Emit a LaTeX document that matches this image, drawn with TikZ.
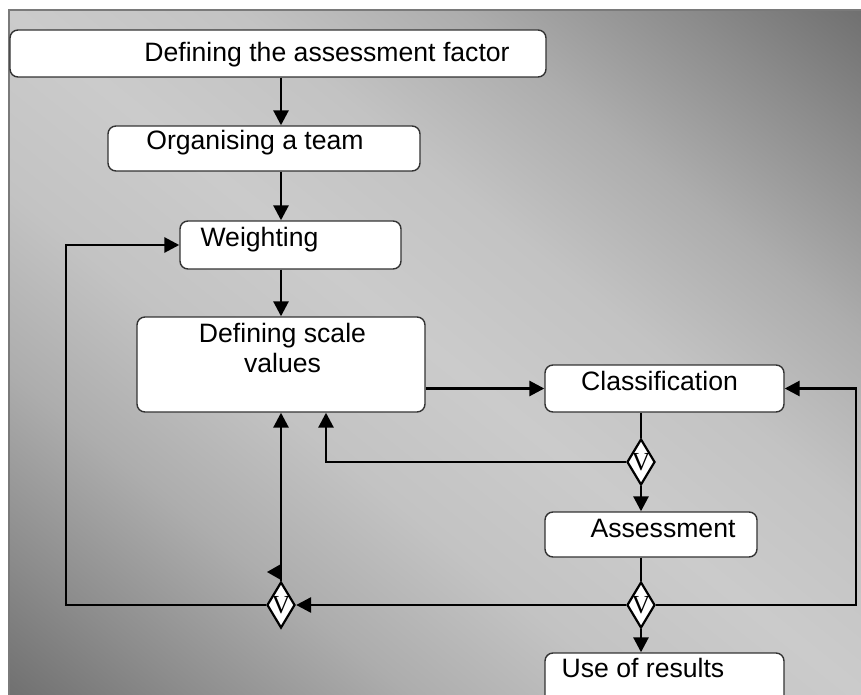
\documentclass[tikz,border=0pt]{standalone}
\usepackage{fontspec}
\setmainfont{Liberation Sans}
\newfontfamily\vfont{Liberation Serif}
\usetikzlibrary{arrows.meta,shapes.geometric}
\definecolor{bgdark}{HTML}{6E6E6E}
\definecolor{bgmid}{HTML}{8C8C8C}
\definecolor{bgmidb}{HTML}{ADADAD}
\definecolor{bgmidc}{HTML}{C3C3C3}
\definecolor{bglight}{HTML}{CBCBCB}
\definecolor{framegray}{HTML}{7A7A7A}
\pgfdeclareverticalshading{bgshade}{600bp}{color(0bp)=(bgdark); color(60bp)=(bgmid); color(130bp)=(bgmidb); color(200bp)=(bgmidc); color(270bp)=(bglight); color(340bp)=(bgmidc); color(410bp)=(bgmidb); color(480bp)=(bgmid); color(540bp)=(bgdark)}
\begin{document}
\begin{tikzpicture}[x=0.5pt,y=-0.5pt,
  box/.style={draw=black!80, line width=0.7pt, fill=white, rounded corners=4pt, inner sep=0pt},
  txt/.style={font=\fontsize{13.3}{15}\selectfont, inner sep=0pt, anchor=base},
  conn/.style={line width=1.4pt},
  arr/.style={conn, -{Triangle[length=7.5pt,width=7.5pt]}},
  dec/.style={diamond, draw=black, line width=1.1pt, fill=white, minimum width=14pt, minimum height=23pt, inner sep=0pt,
    label={[font=\vfont\fontsize{13}{13}\selectfont, inner sep=0pt]center:V}},
]
\useasboundingbox (0,0) rectangle (861,695);
\begin{scope}
  \clip (9,10) rectangle (861,695);
  \node[inner sep=0pt, outer sep=0pt, rotate=-38.8] (bg) at (435,352.5) {\pgfuseshading{bgshade}};
\end{scope}
\draw[line width=1pt, framegray] (9,695) -- (9,10) -- (861,10);

% boxes
\node[box, minimum width=268pt, minimum height=23.5pt] (b1) at (278,53.5) {};
\node[box, minimum width=156pt, minimum height=22.5pt] (b2) at (264,148.5) {};
\node[box, minimum width=110.5pt, minimum height=24pt] (b3) at (290.5,245) {};
\node[box, minimum width=144pt, minimum height=47.5pt] (b4) at (281,364.5) {};
\node[box, minimum width=119.5pt, minimum height=23.5pt] (b5) at (664.5,388.5) {};
\node[box, minimum width=106pt, minimum height=22.5pt] (b6) at (651,534.5) {};
\node[box, minimum width=119.5pt, minimum height=33.5pt] (b7) at (664.5,686.5) {};

% texts
\node[txt] (t1) at (327,62) {Defining the assessment factor};
\node[txt] (t2) at (255,150) {Organising a team};
\node[txt] (t3) at (259.5,247) {Weighting};
\node[txt] (t4a) at (282.5,342) {Defining scale};
\node[txt] (t4b) at (282.5,372) {values};
\node[txt] (t5) at (659.5,390) {Classification};
\node[txt] (t6) at (663,537) {Assessment};
\node[txt] (t7) at (643,677) {Use of results};

% decisions
\node[dec] (d1) at (641,462) {};
\node[dec] (d2) at (641,605) {};
\node[dec] (d3) at (281,605) {};

\coordinate (cx) at (281,0);
\coordinate (rr) at (856,605);
\coordinate (ll) at (66,605);

% connectors
\draw[arr] (cx |- b1.south) -- (cx |- b2.north);
\draw[arr] (cx |- b2.south) -- (cx |- b3.north);
\draw[arr] (cx |- b3.south) -- (cx |- b4.north);
\draw[arr] (b4.east |- b5.west) -- (b5.west);
\draw[conn] (b5.south -| d1) -- (d1.north);
\draw[arr] (d1.west) -| ([xshift=22.5pt]b4.south);
\draw[arr] (d1.south) -- (d1.south |- b6.north);
\draw[conn] (b6.south -| d2) -- (d2.north);
\draw[arr] (d2.south) -- (d2.south |- b7.north);
\draw[arr] (d2.east) -- (rr) |- (b5.east);
\draw[arr] (d2.west) -- (d3.east);
\draw[arr] (d3.north) -- (b4.south);
\draw[arr] (d3.west) -- (ll) |- (b3.west);
\fill (281,564) -- (267,572) -- (281,580) -- cycle;
\end{tikzpicture}
\end{document}
